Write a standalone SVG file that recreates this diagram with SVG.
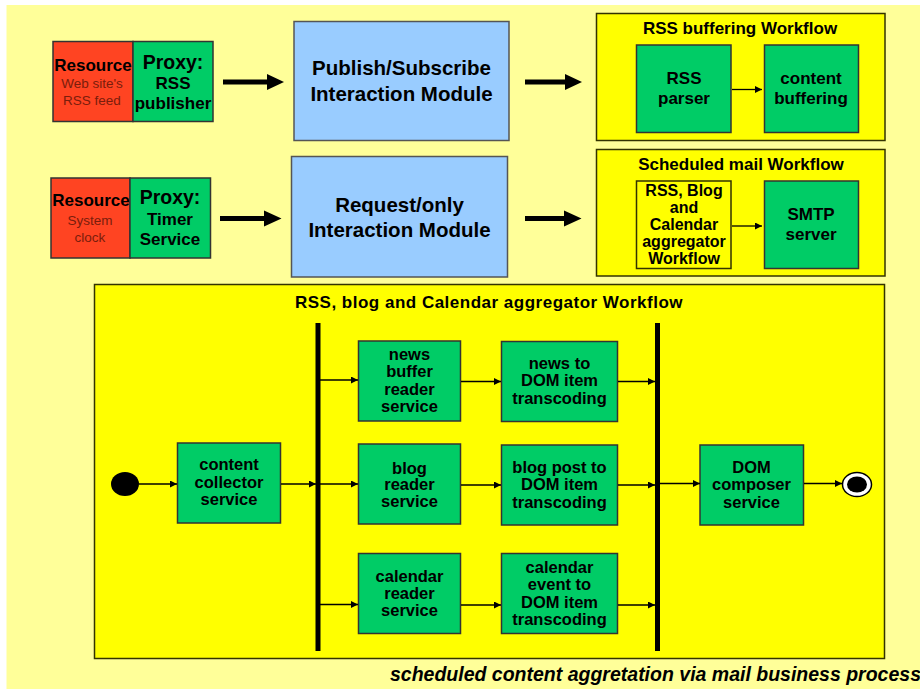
<svg xmlns="http://www.w3.org/2000/svg" width="920" height="689" viewBox="0 0 920 689">
  <defs>
    <marker id="tip" viewBox="0 0 10 10" refX="10" refY="5" markerWidth="8" markerHeight="7" markerUnits="userSpaceOnUse" orient="auto">
      <path d="M0,0 L10,5 L0,10 z" fill="#000"/>
    </marker>
    <style>
      .t { font-family: "Liberation Sans", Arial, sans-serif; font-weight: bold; text-anchor: middle; fill: #000; }
      .sub { font-family: "Liberation Sans", Arial, sans-serif; font-size: 13.5px; text-anchor: middle; fill: #7a1d0c; }
      .red { fill: #FF4422; stroke: #333; stroke-width: 1.5; }
      .green { fill: #00CC66; stroke: #333; stroke-width: 1.5; }
      .blue { fill: #99CCFF; stroke: #555; stroke-width: 1.5; }
      .wf { fill: #FFFF00; stroke: #333300; stroke-width: 1.5; }
      .thin { stroke: #000; stroke-width: 1.3; fill: none; marker-end: url(#tip); }
      .thick { stroke: #000; stroke-width: 5; fill: none; }
      .bar { stroke: #000; stroke-width: 5; }
      .f15 { font-size: 17px; }
      .f16 { font-size: 16px; }
      .f17 { font-size: 16.5px; }
      .f17b { font-size: 17px; }
      .f19 { font-size: 19.5px; }
      .f20 { font-size: 20.5px; }
    </style>
  </defs>

  <!-- page background -->
  <rect x="0" y="0" width="920" height="689" fill="#FFFFFF"/>
  <rect x="6.5" y="5" width="914" height="684" fill="#FFFF99"/>

  <!-- resource/proxy pair: RSS feed -->
  <g id="resource-rss">
    <rect class="red" x="53" y="41.5" width="80" height="80"/>
    <text class="t f17b" x="93" y="71">Resource</text>
    <text class="sub" x="92" y="88">Web site's</text>
    <text class="sub" x="92" y="105">RSS feed</text>
  </g>
  <g id="proxy-rss">
    <rect class="green" x="133" y="41.5" width="80" height="80"/>
    <text class="t f19" x="173" y="69">Proxy:</text>
    <text class="t f17b" x="173" y="89">RSS</text>
    <text class="t f17b" x="173" y="109">publisher</text>
  </g>

  <!-- resource/proxy pair: system clock -->
  <g id="resource-clock">
    <rect class="red" x="51" y="178" width="79" height="80"/>
    <text class="t f17b" x="91" y="206">Resource</text>
    <text class="sub" x="90" y="225">System</text>
    <text class="sub" x="90" y="242">clock</text>
  </g>
  <g id="proxy-timer">
    <rect class="green" x="130" y="178" width="80.5" height="80"/>
    <text class="t f19" x="170" y="204">Proxy:</text>
    <text class="t f17b" x="170" y="225">Timer</text>
    <text class="t f17b" x="170" y="245">Service</text>
  </g>

  <!-- interaction modules -->
  <g id="pubsub-module">
    <rect class="blue" x="294" y="21.5" width="215" height="119"/>
    <text class="t f20" x="401.5" y="75">Publish/Subscribe</text>
    <text class="t f20" x="401.5" y="101">Interaction Module</text>
  </g>
  <g id="request-module">
    <rect class="blue" x="291.5" y="156.5" width="216" height="120.5"/>
    <text class="t f20" x="399.5" y="212">Request/only</text>
    <text class="t f20" x="399.5" y="237">Interaction Module</text>
  </g>

  <!-- RSS buffering workflow -->
  <g id="rss-buffering-workflow">
    <rect class="wf" x="596.5" y="13.5" width="288.5" height="127"/>
    <text class="t f15" x="740" y="34">RSS buffering Workflow</text>
  </g>
  <g id="rss-parser">
    <rect class="green" x="636.5" y="45" width="94.5" height="87.5"/>
    <text class="t f17b" x="684" y="84">RSS</text>
    <text class="t f17b" x="684" y="104">parser</text>
  </g>
  <g id="content-buffering">
    <rect class="green" x="764.5" y="45" width="94" height="87.5"/>
    <text class="t f17b" x="811" y="84">content</text>
    <text class="t f17b" x="811" y="104">buffering</text>
  </g>

  <!-- Scheduled mail workflow -->
  <g id="scheduled-mail-workflow">
    <rect class="wf" x="596.5" y="149.5" width="288.5" height="126.5"/>
    <text class="t f15" x="741" y="170">Scheduled mail Workflow</text>
  </g>
  <g id="aggregator-ref">
    <rect class="wf" x="636.5" y="181" width="94.5" height="87.5" stroke="#333"/>
    <text class="t f16" x="684" y="195.5">RSS, Blog</text>
    <text class="t f16" x="684" y="212.5">and</text>
    <text class="t f16" x="684" y="229.5">Calendar</text>
    <text class="t f16" x="684" y="246.5">aggregator</text>
    <text class="t f16" x="684" y="263.5">Workflow</text>
  </g>
  <g id="smtp-server">
    <rect class="green" x="764.5" y="181" width="94" height="87.5"/>
    <text class="t f17b" x="811" y="220">SMTP</text>
    <text class="t f17b" x="811" y="240">server</text>
  </g>

  <!-- aggregator workflow container -->
  <g id="aggregator-workflow">
    <rect class="wf" x="94.5" y="284.5" width="790" height="374"/>
    <text class="t f15" x="489" y="307.5" letter-spacing="0.5">RSS, blog and Calendar aggregator Workflow</text>
  </g>

  <g id="start">
    <ellipse cx="125" cy="484" rx="14" ry="12" fill="#000"/>
  </g>
  <g id="content-collector">
    <rect class="green" x="177.5" y="443" width="103" height="80"/>
    <text class="t f17" x="229" y="470">content</text>
    <text class="t f17" x="229" y="487.5">collector</text>
    <text class="t f17" x="229" y="505">service</text>
  </g>
  <g id="fork">
    <line class="bar" x1="318" y1="323" x2="318" y2="651"/>
  </g>
  <g id="news-reader">
    <rect class="green" x="358.5" y="341" width="102" height="80"/>
    <text class="t f17" x="409.5" y="359.5">news</text>
    <text class="t f17" x="409.5" y="377">buffer</text>
    <text class="t f17" x="409.5" y="394.5">reader</text>
    <text class="t f17" x="409.5" y="412">service</text>
  </g>
  <g id="blog-reader">
    <rect class="green" x="358.5" y="444" width="102" height="80"/>
    <text class="t f17" x="409.5" y="473.5">blog</text>
    <text class="t f17" x="409.5" y="490">reader</text>
    <text class="t f17" x="409.5" y="507">service</text>
  </g>
  <g id="calendar-reader">
    <rect class="green" x="358.5" y="553.5" width="102" height="80"/>
    <text class="t f17" x="409.5" y="581.5">calendar</text>
    <text class="t f17" x="409.5" y="598.5">reader</text>
    <text class="t f17" x="409.5" y="616">service</text>
  </g>
  <g id="news-transcoding">
    <rect class="green" x="501.5" y="341.5" width="116" height="80"/>
    <text class="t f17" x="559.5" y="368.5">news to</text>
    <text class="t f17" x="559.5" y="386">DOM item</text>
    <text class="t f17" x="559.5" y="403.5">transcoding</text>
  </g>
  <g id="blog-transcoding">
    <rect class="green" x="501.5" y="445" width="116" height="80"/>
    <text class="t f17" x="559.5" y="473">blog post to</text>
    <text class="t f17" x="559.5" y="490">DOM item</text>
    <text class="t f17" x="559.5" y="507.5">transcoding</text>
  </g>
  <g id="calendar-transcoding">
    <rect class="green" x="501.5" y="553.5" width="116" height="80"/>
    <text class="t f17" x="559.5" y="573">calendar</text>
    <text class="t f17" x="559.5" y="590">event to</text>
    <text class="t f17" x="559.5" y="607.5">DOM item</text>
    <text class="t f17" x="559.5" y="624.5">transcoding</text>
  </g>
  <g id="join">
    <line class="bar" x1="657.5" y1="323" x2="657.5" y2="651"/>
  </g>
  <g id="dom-composer">
    <rect class="green" x="700" y="445" width="103.5" height="80"/>
    <text class="t f17" x="751.5" y="473">DOM</text>
    <text class="t f17" x="751.5" y="490">composer</text>
    <text class="t f17" x="751.5" y="507.5">service</text>
  </g>
  <g id="end">
    <ellipse cx="857" cy="484.5" rx="14.5" ry="12" fill="#FFF" stroke="#000" stroke-width="1.5"/>
    <ellipse cx="857" cy="484.5" rx="10" ry="8" fill="#000"/>
  </g>

  <!-- connectors -->
  <g id="connectors">
    <line class="thick" x1="223" y1="82" x2="268" y2="82"/>
    <polygon points="267,74 284,82 267,90"/>
    <line class="thick" x1="525" y1="82" x2="566" y2="82"/>
    <polygon points="565,74 582,82 565,90"/>
    <line class="thick" x1="220" y1="218.5" x2="265" y2="218.5"/>
    <polygon points="264,210.5 281.5,218.5 264,226.5"/>
    <line class="thick" x1="525" y1="218.5" x2="565" y2="218.5"/>
    <polygon points="564,210.5 581.5,218.5 564,226.5"/>

    <line class="thin" x1="732" y1="89.5" x2="762" y2="89.5"/>
    <line class="thin" x1="732" y1="226" x2="762" y2="226"/>

    <line class="thin" x1="139" y1="484" x2="177" y2="484"/>
    <line class="thin" x1="281" y1="484" x2="316" y2="484"/>
    <line class="thin" x1="320" y1="380" x2="358" y2="380"/>
    <line class="thin" x1="320" y1="484" x2="358" y2="484"/>
    <line class="thin" x1="320" y1="604.5" x2="358" y2="604.5"/>
    <line class="thin" x1="461" y1="381.5" x2="501" y2="381.5"/>
    <line class="thin" x1="461" y1="485" x2="501" y2="485"/>
    <line class="thin" x1="461" y1="605" x2="501" y2="605"/>
    <line class="thin" x1="618" y1="381.5" x2="655" y2="381.5"/>
    <line class="thin" x1="618" y1="485" x2="655" y2="485"/>
    <line class="thin" x1="618" y1="605" x2="655" y2="605"/>
    <line class="thin" x1="660" y1="483.5" x2="700" y2="483.5"/>
    <line class="thin" x1="804" y1="483.5" x2="842" y2="483.5"/>
  </g>

  <text x="390" y="681" font-family="Liberation Sans, Arial, sans-serif" font-size="19.5px" font-weight="bold" font-style="italic" fill="#000">scheduled content aggretation via mail business process</text>
</svg>
